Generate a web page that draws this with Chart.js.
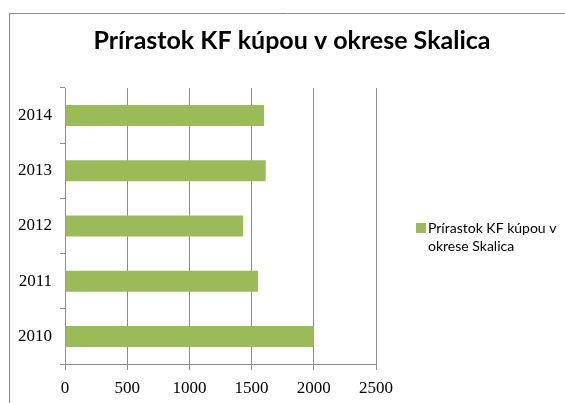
<!DOCTYPE html>
<html>
<head>
<meta charset="utf-8">
<script src="https://cdn.jsdelivr.net/npm/chart.js@4"></script>
<style>
  html, body { margin: 0; padding: 0; background: #fff; }
  #wrap { width: 565px; height: 403px; }
</style>
</head>
<body>
<div id="wrap"><canvas id="chart"></canvas></div>
<script>
const chartTitle = 'Prírastok KF kúpou v okrese Skalica';
const seriesName = 'Prírastok KF kúpou v okrese Skalica';
const years = ['2014', '2013', '2012', '2011', '2010'];
const values = [1600, 1613, 1431, 1551, 2000];
const xTicks = [0, 500, 1000, 1500, 2000, 2500];

const GREEN = '#9bbb59';
const GRID = '#8c8c8c';

// frame, title and legend drawn on top of the chart
const decor = {
  id: 'decor',
  afterDraw(chart) {
    const ctx = chart.ctx;
    ctx.save();
    ctx.strokeStyle = '#8a8a8a';
    ctx.lineWidth = 1;
    ctx.beginPath();
    ctx.moveTo(9.5, 403);
    ctx.lineTo(9.5, 13.5);
    ctx.lineTo(565, 13.5);
    ctx.stroke();

    ctx.fillStyle = '#000';
    ctx.textAlign = 'center';
    ctx.textBaseline = 'alphabetic';
    ctx.font = 'bold 25px Lato';
    ctx.fillText(chartTitle, 292, 49);

    ctx.fillStyle = GREEN;
    ctx.fillRect(416, 223, 10, 10);
    ctx.fillStyle = '#000';
    ctx.textAlign = 'left';
    ctx.font = '14px Lato';
    const words = seriesName.split(' ');
    ctx.fillText(words.slice(0, 4).join(' '), 428, 233);
    ctx.fillText(words.slice(4).join(' '), 428, 251);
    ctx.restore();
  }
};

new Chart(document.getElementById('chart'), {
  type: 'bar',
  data: {
    labels: years,
    datasets: [{
      label: seriesName,
      data: values,
      backgroundColor: GREEN,
      barPercentage: 0.38,
      categoryPercentage: 1
    }]
  },
  options: {
    indexAxis: 'y',
    responsive: true,
    maintainAspectRatio: false,
    animation: false,
    layout: { padding: { left: 10, top: 88, right: 189, bottom: 0 } },
    plugins: {
      legend: { display: false },
      title: { display: false },
      tooltip: { enabled: false }
    },
    scales: {
      x: {
        min: 0,
        max: 2500,
        afterBuildTicks: (axis) => { axis.ticks = xTicks.map(v => ({ value: v })); },
        afterFit: (axis) => { axis.height = 39; },
        grid: { color: GRID, tickLength: 6, drawTicks: true },
        border: { color: GRID },
        ticks: {
          color: '#000', padding: 8,
          font: { family: 'Liberation Serif', size: 17 },
          callback: (v) => String(v)
        }
      },
      y: {
        grid: { drawOnChartArea: false, color: GRID, tickLength: 5, offset: true },
        border: { color: GRID },
        ticks: { color: '#000', padding: 8, font: { family: 'Liberation Serif', size: 17 } }
      }
    }
  },
  plugins: [decor]
});
</script>
</body>
</html>
